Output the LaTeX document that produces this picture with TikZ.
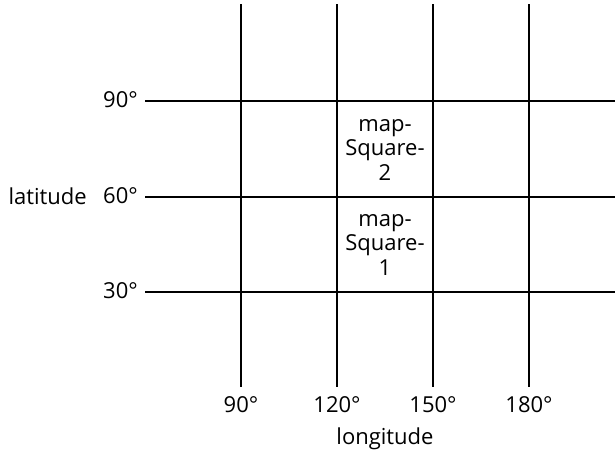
\documentclass[tikz,border=0pt]{standalone}
\usepackage{fontspec}
\setmainfont{Open Sans}
\begin{document}
\begin{tikzpicture}[x=1pt,y=-1pt,
  grid/.style={line width=1.1pt,black},
  lbl/.style={font=\fontsize{22}{26}\selectfont,inner sep=0pt},
  cell/.style={font=\fontsize{22}{24.5}\selectfont,align=center,inner sep=0pt}]
\useasboundingbox (0,0) rectangle (615,455);
% vertical lines
\foreach \n/\x in {a/241,b/337,c/433,d/529}{
  \coordinate (\n top) at (\x,4);
  \coordinate (\n bot) at (\x,387);
  \draw[grid] (\n top) -- (\n bot);
}
% horizontal lines
\foreach \n/\y in {h90/101,h60/197,h30/292}{
  \coordinate (\n l) at (145,\y);
  \coordinate (\n r) at (615,\y);
  \draw[grid] (\n l) -- (\n r);
}
% latitude labels
\node[lbl,anchor=east] (l90) at (138,100) {90°};
\node[lbl,anchor=east] (l60) at (138,196) {60°};
\node[lbl,anchor=east] (l30) at (138,291) {30°};
\node[lbl,anchor=east] (lat) at (87,196) {latitude};
% longitude labels
\node[lbl] (g90) at (241,405) {90°};
\node[lbl] (g120) at (337,405) {120°};
\node[lbl] (g150) at (433,405) {150°};
\node[lbl] (g180) at (529,405) {180°};
\node[lbl] (lon) at (385,439) {longitude};
% cells
\node[cell] (ms2) at (385,150) {map-\\Square-\\2};
\node[cell] (ms1) at (385,245) {map-\\Square-\\1};
\end{tikzpicture}
\end{document}
